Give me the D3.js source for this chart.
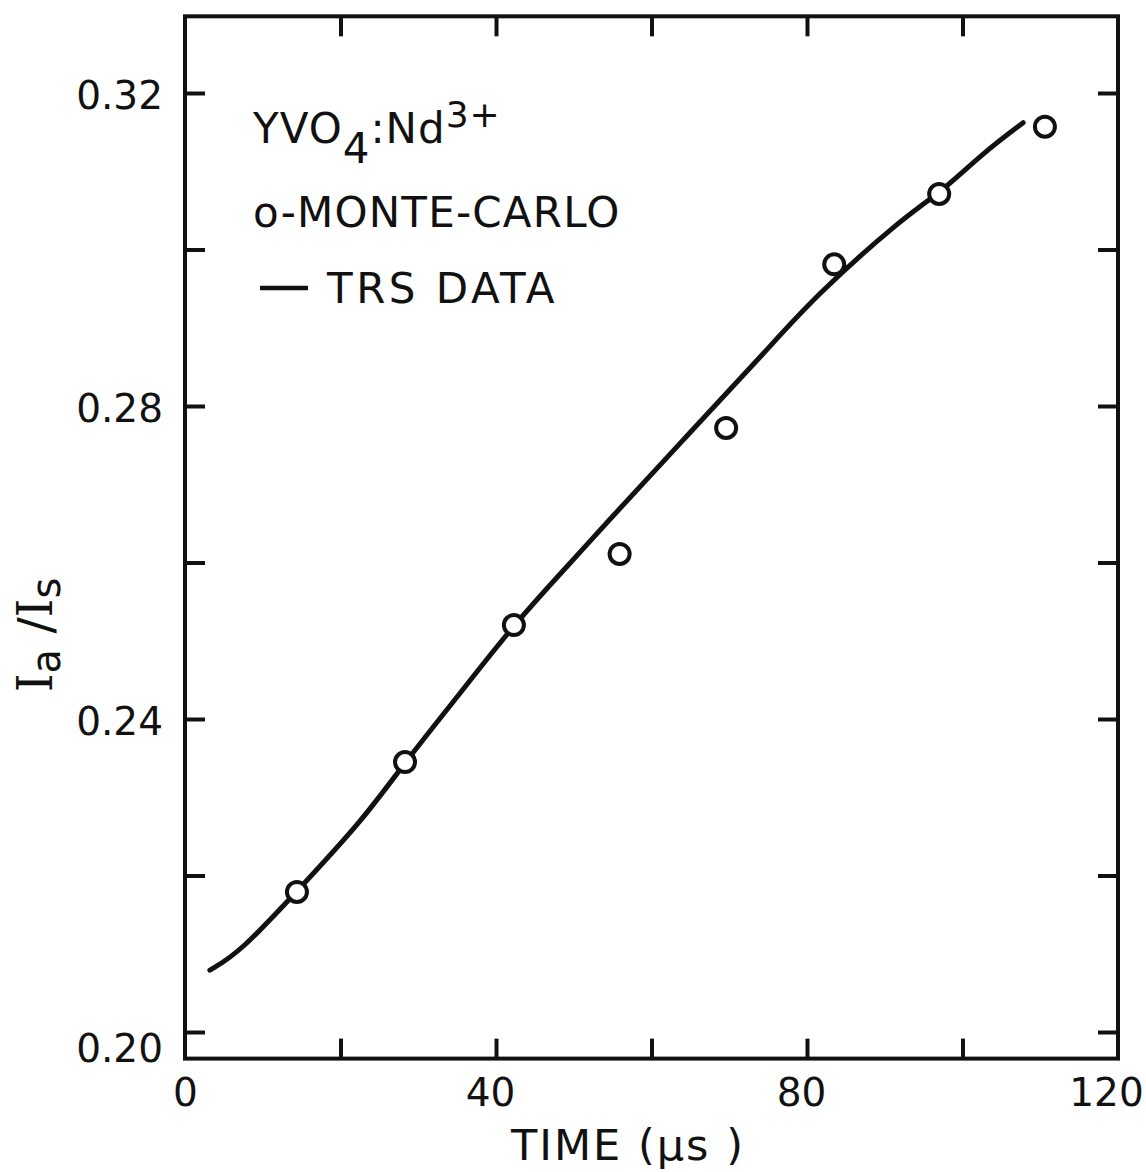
<!DOCTYPE html>
<html>
<head>
<meta charset="utf-8">
<script src="https://cdn.jsdelivr.net/npm/d3@7"></script>
<style>
  html, body { margin: 0; padding: 0; background: #fff; }
  svg text { font-family: "DejaVu Sans", sans-serif; fill: #111; }
</style>
</head>
<body>
<svg id="chart" width="1146" height="1172"></svg>
<script>
// Monte-Carlo points (time in µs, Ia/Is)
const mcTime  = [14.4, 28.3, 42.3, 55.9, 69.6, 83.5, 97.0, 110.6];
const mcRatio = [0.2179, 0.2345, 0.2520, 0.2611, 0.2772, 0.2981, 0.3071, 0.3157];

// TRS data curve
const trsTime  = [3.2, 7.1, 14.4, 22.9, 28.3, 35.4, 42.3, 49.9, 53.4, 64.1, 74.9, 80.8, 92.0, 97.1, 102.6, 107.8];
const trsRatio = [0.2079, 0.2102, 0.2180, 0.2271, 0.2345, 0.2433, 0.2521, 0.2603, 0.2642, 0.2757, 0.2872, 0.2938, 0.3038, 0.3072, 0.3123, 0.3162];

const xTicks = [0, 20, 40, 60, 80, 100, 120];
const xTickLabels = ["0", "", "40", "", "80", "", "120"];
const yTicks = [0.20, 0.22, 0.24, 0.26, 0.28, 0.30, 0.32];
const yTickLabels = ["0.20", "", "0.24", "", "0.28", "", "0.32"];

const svg = d3.select("#chart");
const x = d3.scaleLinear().domain([0, 120]).range([185, 1118]);
const y = d3.scaleLinear().domain([0.20, 0.32]).range([1032, 93]);
const yBottom = 0.1966, yTop = 0.3298;

const ink = "#111";

// Frame
svg.append("rect")
  .attr("x", x(0)).attr("y", y(yTop))
  .attr("width", x(120) - x(0)).attr("height", y(yBottom) - y(yTop))
  .attr("fill", "none").attr("stroke", ink).attr("stroke-width", 4);

function styleAxis(g) {
  g.select(".domain").remove();
  g.selectAll(".tick line").attr("stroke", ink).attr("stroke-width", 4);
  g.selectAll(".tick text").attr("font-size", 39).attr("fill", ink)
    .attr("font-family", "DejaVu Sans, sans-serif");
}

const xInner = xTicks.filter(d => d > 0 && d < 120);

// Bottom axis
svg.append("g").attr("transform", `translate(0,${y(yBottom)})`)
  .call(d3.axisBottom(x).tickValues(xTicks).tickSize(-20).tickPadding(20)
    .tickFormat((d, i) => xTickLabels[i]))
  .call(styleAxis)
  .call(g => g.selectAll(".tick line").filter(d => d === 0 || d === 120).remove())
  .call(g => g.selectAll(".tick text").attr("dx", (d) => d === 0 ? 0 : (d === 120 ? -12 : -6)));

// Top axis (ticks only)
svg.append("g").attr("transform", `translate(0,${y(yTop)})`)
  .call(d3.axisTop(x).tickValues(xInner).tickSize(-20).tickFormat(""))
  .call(styleAxis);

// Left axis
svg.append("g").attr("transform", `translate(${x(0)},0)`)
  .call(d3.axisLeft(y).tickValues(yTicks).tickSize(-20).tickPadding(22)
    .tickFormat((d, i) => yTickLabels[i]))
  .call(styleAxis)
  .call(g => g.selectAll(".tick text").attr("dy", d => d === 0.20 ? "0.75em" : "0.4em"));

// Right axis (ticks only)
svg.append("g").attr("transform", `translate(${x(120)},0)`)
  .call(d3.axisRight(y).tickValues(yTicks).tickSize(-20).tickFormat(""))
  .call(styleAxis);

// TRS curve
const trs = trsTime.map((t, i) => [t, trsRatio[i]]);
svg.append("path")
  .datum(trs)
  .attr("d", d3.line().x(d => x(d[0])).y(d => y(d[1])).curve(d3.curveBasis))
  .attr("fill", "none").attr("stroke", ink).attr("stroke-width", 5)
  .attr("stroke-linecap", "round");

// Monte-Carlo circles
svg.append("g").selectAll("circle")
  .data(mcTime.map((t, i) => [t, mcRatio[i]]))
  .join("circle")
  .attr("cx", d => x(d[0])).attr("cy", d => y(d[1])).attr("r", 10)
  .attr("fill", "#fff").attr("stroke", ink).attr("stroke-width", 4);

// Legend
const l1 = svg.append("text").attr("x", 253).attr("y", 143).attr("font-size", 42).attr("letter-spacing", 1);
l1.append("tspan").text("YVO");
l1.append("tspan").attr("dy", 20).text("4");
l1.append("tspan").attr("dy", -20).text(":Nd");
l1.append("tspan").attr("dy", -16).attr("font-size", 36).text("3+");

svg.append("text").attr("x", 253).attr("y", 227).attr("font-size", 42).attr("letter-spacing", 1.2)
  .text("o-MONTE-CARLO");

svg.append("line").attr("x1", 260).attr("x2", 308).attr("y1", 288).attr("y2", 288)
  .attr("stroke", ink).attr("stroke-width", 4.5);
svg.append("text").attr("x", 327).attr("y", 303).attr("font-size", 42).attr("letter-spacing", 3.5)
  .text("TRS DATA");

// Axis titles
svg.append("text").attr("x", 628).attr("y", 1160).attr("text-anchor", "middle")
  .attr("font-size", 43).attr("letter-spacing", 2).text("TIME (μs )");

const yl = svg.append("text")
  .attr("transform", "translate(52,635) rotate(-90)")
  .attr("text-anchor", "middle").attr("font-size", 48);
yl.append("tspan").attr("font-family", "DejaVu Serif, serif").text("I");
yl.append("tspan").attr("dy", 8).attr("font-size", 40).text("a");
yl.append("tspan").attr("dy", -8).text(" /");
yl.append("tspan").attr("font-family", "DejaVu Serif, serif").text("I");
yl.append("tspan").attr("dy", 8).attr("font-size", 40).text("s");
</script>
</body>
</html>
